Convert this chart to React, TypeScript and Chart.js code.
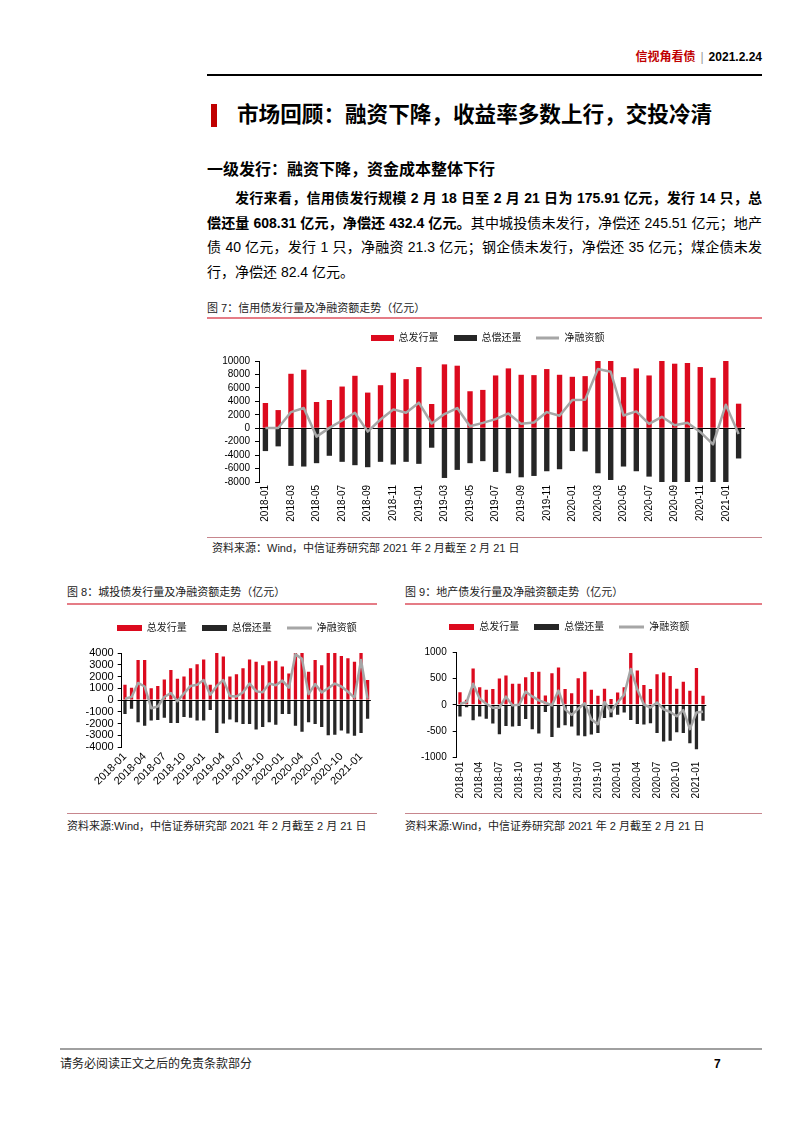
import React, { useEffect, useRef } from "react";
import { Chart, registerables } from "chart.js";

Chart.register(...registerables);

const FONT = '"Liberation Sans", Arial, "Noto Sans CJK SC", sans-serif';
Chart.defaults.font.family = FONT;

const RED = "#dc0a1e";
const BLACK = "#262626";
const GRAY = "#a6a6a6";
const PINK = "#e57c86";

const months = [
  "2018-01", "2018-02", "2018-03", "2018-04", "2018-05", "2018-06",
  "2018-07", "2018-08", "2018-09", "2018-10", "2018-11", "2018-12",
  "2019-01", "2019-02", "2019-03", "2019-04", "2019-05", "2019-06",
  "2019-07", "2019-08", "2019-09", "2019-10", "2019-11", "2019-12",
  "2020-01", "2020-02", "2020-03", "2020-04", "2020-05", "2020-06",
  "2020-07", "2020-08", "2020-09", "2020-10", "2020-11", "2020-12",
  "2021-01", "2021-02",
];

const seriesNames = ["总发行量", "总偿还量", "净融资额"];

// 图7 信用债
const creditIssue = [
  3750, 2700, 8100, 8700, 3900, 4200, 6200, 7800, 5300, 6400, 8250, 7300,
  9100, 3600, 9500, 9300, 5500, 5700, 7850, 8900, 7950, 7900, 8800, 7950,
  7650, 7750, 10000, 10000, 7600, 8900, 7850, 10000, 9600, 9700, 9100, 7500,
  10000, 3650,
];
const creditRepay = [
  -3400, -2700, -5600, -5700, -5200, -4100, -5000, -5500, -5800, -5000, -5400, -5000,
  -5300, -2900, -7400, -6200, -5200, -4900, -6500, -6700, -7300, -7100, -6400, -6100,
  -3400, -3450, -6700, -7700, -5700, -6400, -7200, -8000, -8000, -8000, -8000, -8000,
  -8000, -4500,
];
const creditNet = [
  50, 20, 2400, 3000, -1250, 50, 1150, 2300, -500, 1300, 2800, 2300,
  3800, 700, 2100, 3000, 300, 800, 1350, 2200, 650, 850, 2400, 1850,
  4200, 4250, 8800, 8400, 1900, 2500, 650, 1700, 450, 800, -550, -2400,
  3500, -850,
];
const creditTicks = [10000, 8000, 6000, 4000, 2000, 0, -2000, -4000, -6000, -8000];

// 图8 城投债
const lgfvIssue = [
  1300, 1050, 3400, 3400, 1000, 1200, 1750, 2550, 1800, 2000, 2700, 3050,
  3450, 1300, 4000, 3700, 2000, 2200, 2700, 3450, 3250, 2950, 3300, 3350,
  2850, 2250, 4000, 4000, 2400, 3400, 2950, 4000, 4000, 3750, 3550, 3250,
  4000, 1700,
];
const lgfvRepay = [
  -1200, -750, -1900, -2200, -1750, -1700, -1500, -1950, -1950, -1450, -1500, -1750,
  -1750, -850, -2800, -2000, -1650, -1900, -2050, -2050, -2500, -2300, -1900, -2100,
  -1200, -1200, -2200, -2700, -1900, -2050, -2300, -3000, -2950, -2600, -2850, -3050,
  -2800, -1600,
];
const lgfvNet = [
  100, 250, 1450, 1150, -700, -550, 250, 600, -100, 550, 1200, 1300,
  1700, 450, 1200, 1700, 350, 300, 650, 1400, 750, 650, 1400, 1250,
  1650, 1050, 3900, 3500, 500, 1350, 650, 1000, 1400, 1150, 700, 200,
  3400, 100,
];
const lgfvTicks = [4000, 3000, 2000, 1000, 0, -1000, -2000, -3000, -4000];

// 图9 地产债
const propIssue = [
  240, 95, 690, 335, 285, 300, 500, 555, 400, 400, 520, 620,
  625, 175, 600, 705, 300, 220, 505, 625, 285, 170, 305, 110,
  235, 335, 980, 650, 375, 300, 580, 610, 545, 305, 435, 265,
  695, 170,
];
const propRepay = [
  -220, -45, -290, -220, -265, -355, -555, -400, -410, -400, -270, -460,
  -540, -135, -610, -435, -385, -410, -580, -595, -560, -535, -250, -235,
  -185, -145, -285, -360, -370, -350, -535, -695, -680, -520, -535, -725,
  -840, -300,
];
const propNet = [
  20, 50, 400, 115, 20, -55, -55, 155, -10, 0, 250, 160,
  85, 40, -10, 270, -85, -190, -75, 30, -275, -365, 55, -125,
  50, 190, 680, 290, 5, -50, 45, -85, -135, -215, -100, -460,
  -145, -130,
];
const propTicks = [1000, 500, 0, -500, -1000];

type Spec = {
  x: number; y: number; w: number; h: number;
  padR: number; legendH: number; legendDx: number; xH: number; yW: number;
  issue: number[]; repay: number[]; net: number[]; yTicks: number[];
  every: number; rot: number; barPct: number;
  yFont: number; xFont: number; yPad: number; xPad: number; iconW: number;
};

function makeIcon(color: string, h: number, w: number) {
  const c = document.createElement("canvas");
  c.width = w;
  c.height = 8;
  const g = c.getContext("2d")!;
  g.fillStyle = color;
  g.fillRect(0, (8 - h) / 2, w, h);
  return c;
}

const zeroLine = {
  id: "zeroLine",
  beforeDatasetDraw(chart: any, args: any) {
    if (args.index !== 2) return;
    const y = Math.round(chart.scales.y.getPixelForValue(0)) + 0.5;
    const { left, right } = chart.chartArea;
    const ctx = chart.ctx;
    ctx.save();
    ctx.strokeStyle = "#000";
    ctx.lineWidth = 1;
    ctx.beginPath();
    ctx.moveTo(left, y);
    ctx.lineTo(right, y);
    ctx.stroke();
    ctx.restore();
  },
};

function legendTweak(h: number, dx: number) {
  return {
    id: "legendTweak",
    beforeInit(chart: any) {
      const lg = chart.legend;
      if (!lg) return;
      const orig = lg.fit;
      lg.fit = function () {
        orig.call(this);
        this.height = h;
      };
    },
    afterLayout(chart: any) {
      const lg = chart.legend;
      if (!lg) return;
      lg.left += dx;
      lg.right += dx;
    },
  };
}

function FlowChart({ s }: { s: Spec }) {
  const ref = useRef<HTMLCanvasElement>(null);
  useEffect(() => {
    const icons = [
      makeIcon(RED, 6, s.iconW),
      makeIcon(BLACK, 6, s.iconW),
      makeIcon(GRAY, 3, s.iconW),
    ];
    const yMax = Math.max(...s.yTicks);
    const yMin = Math.min(...s.yTicks);
    const step = s.yTicks[0] - s.yTicks[1];
    const chart = new Chart(ref.current!, {
      type: "bar",
      data: {
        labels: months,
        datasets: [
          {
            type: "bar",
            label: seriesNames[0],
            data: s.issue,
            backgroundColor: RED,
            grouped: false,
            categoryPercentage: 1,
            barPercentage: s.barPct,
            order: 1,
          } as any,
          {
            type: "bar",
            label: seriesNames[1],
            data: s.repay,
            backgroundColor: BLACK,
            grouped: false,
            categoryPercentage: 1,
            barPercentage: s.barPct,
            order: 1,
          } as any,
          {
            type: "line",
            label: seriesNames[2],
            data: s.net,
            borderColor: GRAY,
            backgroundColor: GRAY,
            borderWidth: 2.5,
            pointRadius: 0,
            tension: 0,
            borderJoinStyle: "round",
            order: 0,
          } as any,
        ],
      },
      options: {
        responsive: false,
        animation: false,
        devicePixelRatio: 1,
        layout: { padding: { left: 0, right: s.padR, top: 0, bottom: 0 } },
        plugins: {
          tooltip: { enabled: false },
          legend: {
            display: true,
            position: "top",
            align: "center",
            labels: {
              usePointStyle: true,
              pointStyleWidth: s.iconW,
              padding: 15,
              color: "#1a1a1a",
              font: { size: 10, family: FONT },
              generateLabels: (c: any) =>
                c.data.datasets.map((ds: any, i: number) => ({
                  text: ds.label,
                  pointStyle: icons[i],
                  fillStyle: "rgba(0,0,0,0)",
                  strokeStyle: "rgba(0,0,0,0)",
                  lineWidth: 0,
                  hidden: false,
                  datasetIndex: i,
                  fontColor: "#1a1a1a",
                })),
            },
          },
        },
        scales: {
          x: {
            grid: { display: false, drawTicks: false },
            border: { display: false },
            ticks: {
              autoSkip: false,
              minRotation: s.rot,
              maxRotation: s.rot,
              padding: s.xPad,
              color: "#000",
              font: { size: s.xFont, family: FONT },
              callback: function (this: any, v: any, i: number) {
                return i % s.every === 0 ? months[i] : "";
              },
            },
            afterFit: (sc: any) => {
              sc.height = s.xH;
            },
          },
          y: {
            min: yMin,
            max: yMax,
            grid: {
              display: true,
              drawOnChartArea: false,
              drawTicks: true,
              tickLength: 4,
              tickColor: "#000",
            },
            border: { display: true, color: "#000", width: 1 },
            ticks: {
              stepSize: step,
              autoSkip: false,
              padding: s.yPad,
              color: "#000",
              font: { size: s.yFont, family: FONT, lineHeight: 1 },
              callback: (v: any) => String(v),
            },
            afterFit: (sc: any) => {
              sc.width = s.yW;
            },
          },
        },
      } as any,
      plugins: [legendTweak(s.legendH, s.legendDx), zeroLine],
    });
    return () => chart.destroy();
  }, []);
  return (
    <canvas
      ref={ref}
      width={s.w}
      height={s.h}
      style={{ position: "absolute", left: s.x, top: s.y, width: s.w, height: s.h }}
    />
  );
}

const fig7: Spec = {
  x: 212, y: 318, w: 550, h: 214, padR: 17, legendH: 43, legendDx: 9, xH: 50, yW: 47,
  issue: creditIssue, repay: creditRepay, net: creditNet, yTicks: creditTicks,
  every: 2, rot: 90, barPct: 0.42, yFont: 10, xFont: 10, yPad: 5, xPad: 3, iconW: 23,
};
const fig8: Spec = {
  x: 67, y: 608, w: 313, h: 192, padR: 5.5, legendH: 45, legendDx: 16, xH: 53, yW: 54.7,
  issue: lgfvIssue, repay: lgfvRepay, net: lgfvNet, yTicks: lgfvTicks,
  every: 3, rot: 45, barPct: 0.5, yFont: 11, xFont: 11, yPad: 4, xPad: 3, iconW: 25,
};
const fig9: Spec = {
  x: 405, y: 607, w: 357, h: 198, padR: 55.7, legendH: 45, legendDx: 13.5, xH: 47.3, yW: 51.7,
  issue: propIssue, repay: propRepay, net: propNet, yTicks: propTicks,
  every: 3, rot: 90, barPct: 0.5, yFont: 10, xFont: 10, yPad: 6, xPad: 4, iconW: 25,
};

function T(props: {
  x: number; y: number; size: number; children: any;
  weight?: number; color?: string; right?: boolean;
}) {
  const lh = Math.round(props.size * 1.4);
  const st: any = {
    position: "absolute",
    top: props.y - lh / 2,
    lineHeight: lh + "px",
    fontSize: props.size,
    fontWeight: props.weight || 400,
    color: props.color || "#000",
    whiteSpace: "nowrap",
    fontFamily: FONT,
  };
  if (props.right) st.right = 802 - props.x;
  else st.left = props.x;
  return <div style={st}>{props.children}</div>;
}

function Line(props: { x1: number; x2: number; y: number; h: number; color: string }) {
  return (
    <div
      style={{
        position: "absolute",
        left: props.x1,
        top: props.y - props.h / 2,
        width: props.x2 - props.x1,
        height: props.h,
        background: props.color,
      }}
    />
  );
}

function Para(props: { x: number; w: number; y: number; children: any; last?: boolean }) {
  return (
    <div
      style={{
        position: "absolute",
        left: props.x,
        width: props.w,
        top: props.y - 12,
        lineHeight: "24px",
        fontSize: 14,
        fontFamily: FONT,
        color: "#000",
        whiteSpace: "nowrap",
        textAlign: props.last ? "left" : "justify",
        textAlignLast: props.last ? "left" : "justify",
      } as any}
    >
      {props.children}
    </div>
  );
}

const SRC7 = "资料来源：Wind，中信证券研究部  2021 年 2 月截至 2 月 21 日";
const SRC89 = "资料来源:Wind，中信证券研究部  2021 年 2 月截至 2 月 21 日";

export default function App() {
  return (
    <div
      style={{
        position: "absolute",
        left: 0,
        top: 0,
        width: 802,
        height: 1133,
        background: "#fff",
        fontFamily: FONT,
        overflow: "hidden",
      }}
    >
      <T x={762} y={57} size={12} weight={700} right>
        <span style={{ color: "#c00000" }}>信视角看债</span>
        <span style={{ color: "#999", fontWeight: 400, margin: "0 5px" }}>|</span>
        <span>2021.2.24</span>
      </T>
      <Line x1={207} x2={762} y={75} h={2} color="#000" />

      <div style={{ position: "absolute", left: 211, top: 104, width: 6, height: 23, background: "#c00000" }} />
      <T x={237} y={115} size={21.6} weight={700}>市场回顾：融资下降，收益率多数上行，交投冷清</T>

      <T x={207} y={170} size={16} weight={700}>一级发行：融资下降，资金成本整体下行</T>

      <Para x={235} w={527} y={198}>
        <b>发行来看，信用债发行规模 2 月 18 日至 2 月 21 日为 175.91 亿元，发行 14 只，总</b>
      </Para>
      <Para x={207} w={555} y={222.7}>
        <b>偿还量 608.31 亿元，净偿还 432.4 亿元。</b>其中城投债未发行，净偿还 245.51 亿元；地产
      </Para>
      <Para x={207} w={555} y={247.3}>
        债 40 亿元，发行 1 只，净融资 21.3 亿元；钢企债未发行，净偿还 35 亿元；煤企债未发
      </Para>
      <Para x={207} w={555} y={272} last>
        行，净偿还 82.4 亿元。
      </Para>

      <T x={207} y={308} size={11} color="#222">图 7：信用债发行量及净融资额走势（亿元）</T>
      <Line x1={207} x2={762} y={318} h={2} color={PINK} />
      <FlowChart s={fig7} />
      <Line x1={207} x2={762} y={537} h={1} color="#c7868d" />
      <T x={212} y={548} size={11} color="#222">{SRC7}</T>

      <T x={67} y={592} size={11} color="#222">图 8：城投债发行量及净融资额走势（亿元）</T>
      <Line x1={67} x2={377} y={604} h={2} color={PINK} />
      <T x={405} y={592} size={11} color="#222">图 9：地产债发行量及净融资额走势（亿元）</T>
      <Line x1={405} x2={762} y={604} h={2} color={PINK} />

      <FlowChart s={fig8} />
      <FlowChart s={fig9} />

      <Line x1={67} x2={377} y={813} h={1} color="#c7868d" />
      <Line x1={405} x2={762} y={813} h={1} color="#c7868d" />
      <T x={67} y={826} size={11} color="#222">{SRC89}</T>
      <T x={405} y={826} size={11} color="#222">{SRC89}</T>

      <Line x1={60} x2={762} y={1049} h={2} color="#a0a0a0" />
      <T x={60} y={1064} size={12} color="#222">请务必阅读正文之后的免责条款部分</T>
      <T x={714} y={1064} size={12} weight={700} color="#000">7</T>
    </div>
  );
}
